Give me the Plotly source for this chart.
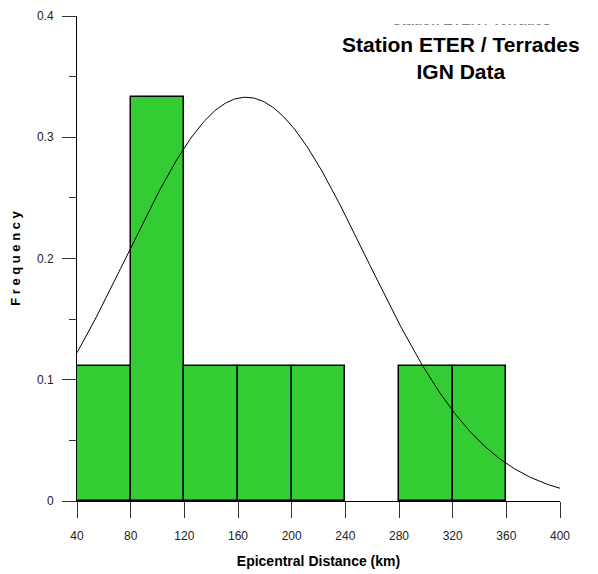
import numpy as np
import plotly.graph_objects as go

# histogram bins (km) and relative frequencies
bin_left = [40, 80, 120, 160, 200, 240, 280, 320]
freq = [0.111, 0.333, 0.111, 0.111, 0.111, 0.0, 0.111, 0.111]
bin_width = 40

# fitted normal curve, parameters
curve_mean = 166
curve_sd = 89
curve_peak = 0.333

x_ticks = [40, 80, 120, 160, 200, 240, 280, 320, 360, 400]
y_ticks = [0, 0.1, 0.2, 0.3, 0.4]
y_labels = ["0", "0.1", "0.2", "0.3", "0.4"]

# empty bins are not drawn
centers = [b + bin_width / 2 for b, f in zip(bin_left, freq) if f > 0]
heights = [f for f in freq if f > 0]

xs = np.linspace(40, 400, 300)
ys = curve_peak * np.exp(-((xs - curve_mean) ** 2) / (2 * curve_sd ** 2))

fig = go.Figure()
fig.add_trace(go.Bar(
    x=centers, y=heights, width=bin_width,
    marker=dict(color="#33CC33", line=dict(color="black", width=1.5)),
    showlegend=False,
))
fig.add_trace(go.Scatter(
    x=xs, y=ys, mode="lines",
    line=dict(color="black", width=1),
    showlegend=False,
))

axis_font = dict(family="Arial, Liberation Sans", size=12, color="#222")
title_font = dict(family="Arial, Liberation Sans", size=14, color="black")

fig.update_xaxes(
    range=[40, 400], tickvals=x_ticks,
    ticks="outside", ticklen=16, tickcolor="#333", tickwidth=1,
    ticklabelstandoff=8,
    showline=True, linecolor="black", linewidth=1,
    showgrid=False, zeroline=False,
    tickfont=axis_font, automargin=False,
    title=dict(text="<b>Epicentral Distance (km)</b>", font=title_font, standoff=13),
)
fig.update_yaxes(
    range=[0, 0.4], tickvals=y_ticks, ticktext=y_labels,
    ticks="outside", ticklen=14, tickcolor="#333", tickwidth=1,
    ticklabelstandoff=6,
    minor=dict(dtick=0.05, tick0=0, ticks="outside", ticklen=7, tickcolor="#333"),
    showline=True, linecolor="black", linewidth=1,
    showgrid=False, zeroline=False,
    tickfont=axis_font, automargin=False,
    title=dict(text="<b>F r e q u e n c y</b>",
               font=dict(family="Arial, Liberation Sans", size=13, color="black"),
               standoff=16),
)

# faint, mostly hidden duplicate of the title line at the top edge
fig.add_annotation(
    x=0.816, y=0.972, xref="paper", yref="paper",
    xanchor="center", yanchor="bottom", showarrow=False,
    text="<b>Station ETER / Terrades</b>",
    font=dict(family="Arial, Liberation Sans", size=14, color="black"),
)
fig.add_annotation(
    x=0.816, y=0.981, xref="paper", yref="paper",
    xanchor="center", yanchor="bottom", showarrow=False,
    text=" ", width=200, height=24, borderpad=0,
    bgcolor="white",
)

fig.add_annotation(
    x=0.795, y=0.913, xref="paper", yref="paper",
    xanchor="center", yanchor="middle", showarrow=False,
    text="<b>Station ETER / Terrades<br>IGN Data</b>",
    font=dict(family="Arial, Liberation Sans", size=21, color="black"),
)

# the page body adds an 8px offset, margins compensate for it
fig.update_layout(
    width=598, height=574,
    margin=dict(l=69, r=46, t=8, b=81),
    plot_bgcolor="white", paper_bgcolor="white",
    bargap=0,
)

fig.write_html("out.html")
